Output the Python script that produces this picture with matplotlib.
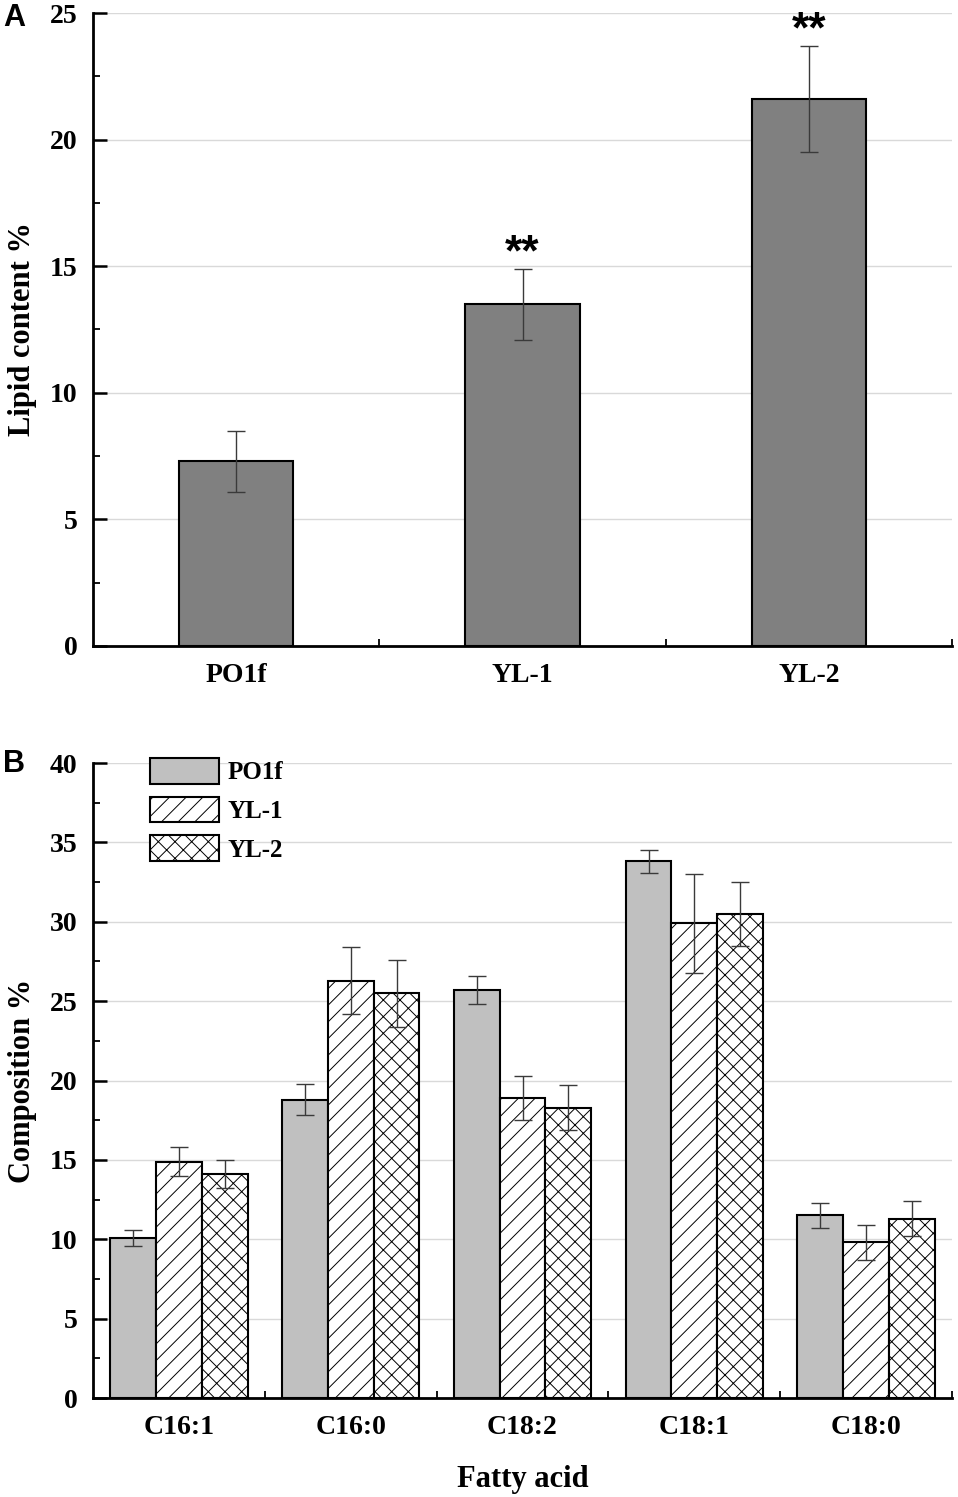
import numpy as np
import matplotlib
matplotlib.use("Agg")
import matplotlib.pyplot as plt
from matplotlib.ticker import MultipleLocator, FixedLocator

plt.rcParams['font.family'] = ['Liberation Serif', 'DejaVu Serif']
plt.rcParams['font.weight'] = 'bold'
plt.rcParams['axes.labelweight'] = 'bold'
plt.rcParams['hatch.linewidth'] = 0.7

# panel A: lipid content
strains = ['PO1f', 'YL-1', 'YL-2']
lipid = [7.3, 13.5, 21.6]
lipid_err = [1.2, 1.4, 2.1]
signif = ['', '**', '**']

# panel B: fatty acid composition
acids = ['C16:1', 'C16:0', 'C18:2', 'C18:1', 'C18:0']
comp_po1f = [10.1, 18.8, 25.7, 33.8, 11.5]
comp_yl1 = [14.9, 26.3, 18.9, 29.9, 9.8]
comp_yl2 = [14.1, 25.5, 18.3, 30.5, 11.3]
err_po1f = [0.5, 1.0, 0.9, 0.7, 0.8]
err_yl1 = [0.9, 2.1, 1.4, 3.1, 1.1]
err_yl2 = [0.9, 2.1, 1.4, 2.0, 1.1]

TICK_FS = 20
LABEL_FS = 22
ERR_KW = dict(ecolor='#3a3a3a', elinewidth=1.0, capsize=6.5, capthick=1.0)


def style_axes(ax, n, ymax, ystep):
    for s in ['top', 'right']:
        ax.spines[s].set_visible(False)
    for s in ['left', 'bottom']:
        ax.spines[s].set_linewidth(2.0)
    ax.set_xlim(-0.5, n - 0.5)
    ax.set_ylim(0, ymax)
    ax.yaxis.set_major_locator(MultipleLocator(ystep))
    ax.yaxis.set_minor_locator(MultipleLocator(ystep / 2))
    ax.xaxis.set_minor_locator(FixedLocator(np.arange(n) + 0.5))
    ax.tick_params(axis='both', which='major', direction='in', length=10, width=1.8,
                   labelsize=TICK_FS)
    ax.tick_params(axis='both', which='minor', direction='in', length=5, width=1.3)
    ax.tick_params(axis='y', which='major', pad=11)
    ax.tick_params(axis='x', which='major', pad=12)
    ax.yaxis.grid(True, color='#d9d9d9', linewidth=1.0)
    ax.set_axisbelow(True)


fig = plt.figure(figsize=(9.58, 14.97), dpi=100)

# ---- A ----
axA = fig.add_axes([0.0971, 0.5685, 0.8967, 0.4228])
x = np.arange(len(strains))
axA.bar(x, lipid, width=0.4, color='#808080', edgecolor='black', linewidth=1.5,
        yerr=lipid_err, error_kw=ERR_KW, zorder=2)
for xi, m, e, s in zip(x, lipid, lipid_err, signif):
    if s:
        axA.text(xi, m + e + 0.15, s, ha='center', va='baseline', fontsize=32,
                 family='Liberation Sans', fontweight='bold')
style_axes(axA, len(strains), 25, 5)
axA.set_xticks(x)
axA.set_xticklabels(strains)
axA.set_ylabel('Lipid content %', fontsize=LABEL_FS, labelpad=9)
fig.text(0.003, 0.998, 'A', fontsize=22, family='Liberation Sans', fontweight='bold',
         ha='left', va='top')

# ---- B ----
axB = fig.add_axes([0.0971, 0.0661, 0.8967, 0.4242])
xb = np.arange(len(acids))
w = 0.8 / 3
axB.bar(xb - w, comp_po1f, width=w, color='#c0c0c0', edgecolor='black', linewidth=1.5,
        yerr=err_po1f, error_kw=ERR_KW, label='PO1f', zorder=2)
axB.bar(xb, comp_yl1, width=w, color='white', edgecolor='black', linewidth=1.5,
        hatch='//', yerr=err_yl1, error_kw=ERR_KW, label='YL-1', zorder=2)
axB.bar(xb + w, comp_yl2, width=w, color='white', edgecolor='black', linewidth=1.5,
        hatch='xx', yerr=err_yl2, error_kw=ERR_KW, label='YL-2', zorder=2)
style_axes(axB, len(acids), 40, 5)
axB.set_xticks(xb)
axB.set_xticklabels(acids)
axB.set_xlabel('Fatty acid', fontsize=LABEL_FS, labelpad=18)
axB.set_ylabel('Composition %', fontsize=LABEL_FS, labelpad=9)
axB.legend(loc='upper left', bbox_to_anchor=(0.0664, 1.008), frameon=False,
           fontsize=18, handlelength=2.75, handleheight=1.2, handletextpad=0.36,
           labelspacing=0.5, borderpad=0, borderaxespad=0)
fig.text(0.003, 0.4995, 'B', fontsize=22, family='Liberation Sans', fontweight='bold',
         ha='left', va='top')

fig.savefig('out.png', dpi=100)
